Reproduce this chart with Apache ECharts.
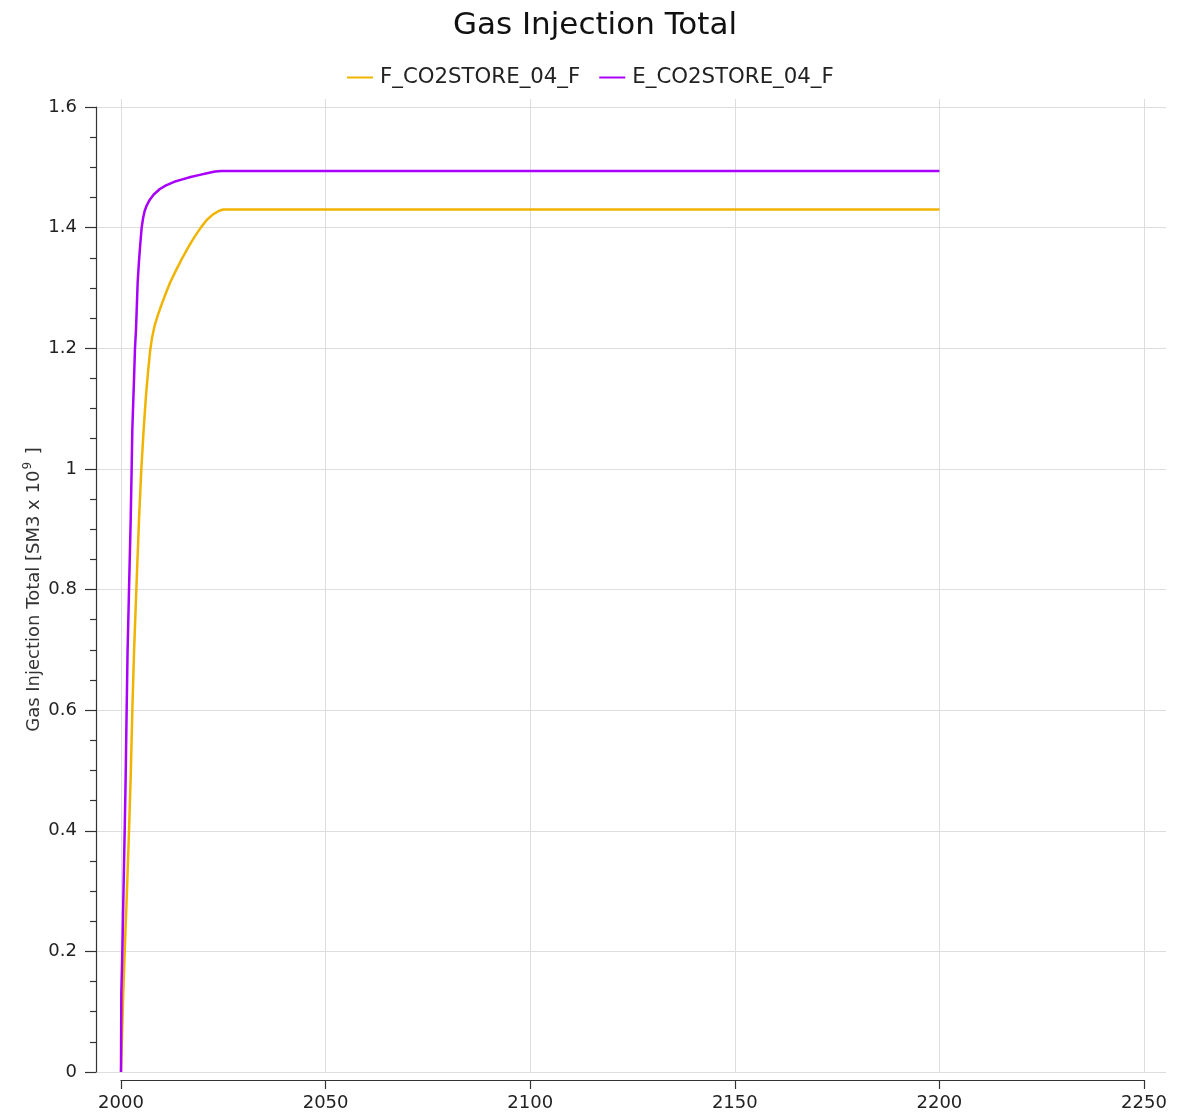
<!DOCTYPE html>
<html>
<head>
<meta charset="utf-8">
<title>Gas Injection Total</title>
<script src="https://cdn.jsdelivr.net/npm/echarts@6/dist/echarts.min.js"></script>
<style>
  html, body { margin: 0; padding: 0; background: #ffffff; }
  #chart { width: 1190px; height: 1117px; }
</style>
</head>
<body>
<div id="chart"></div>
<script>
// Cumulative gas injection per well, SM3 x 10^9, against time in decimal years
const fName = 'F_CO2STORE_04_F';
const fYears  = [2000, 2000.5, 2000.9, 2001.38, 2001.96, 2002.37, 2002.77, 2003.18, 2003.75, 2004.4, 2004.97, 2005.54, 2006.1, 2006.6, 2007.1, 2007.6, 2008.2, 2009.0, 2010.0, 2011.0, 2012.0, 2013.5, 2015.0, 2016.5, 2018.0, 2019.5, 2021.0, 2022.5, 2024.0, 2025.0, 2200];
const fValues = [0, 0.1195, 0.2, 0.2855, 0.4, 0.49, 0.6, 0.695, 0.8, 0.916, 1.0, 1.0656, 1.121, 1.16, 1.195, 1.218, 1.237, 1.255, 1.274, 1.292, 1.309, 1.330, 1.350, 1.368, 1.385, 1.400, 1.413, 1.422, 1.428, 1.430, 1.430];

const eName = 'E_CO2STORE_04_F';
const eYears  = [2000, 2000.08, 2000.33, 2000.57, 2000.9, 2001.14, 2001.38, 2001.6, 2001.96, 2002.37, 2002.6, 2002.77, 2003.18, 2003.42, 2003.67, 2004.07, 2004.4, 2004.7, 2005.05, 2005.4, 2005.8, 2006.3, 2007.0, 2008.0, 2009.5, 2011.0, 2013.0, 2015.0, 2017.0, 2019.0, 2021.0, 2023.0, 2024.5, 2200];
const eValues = [0, 0.13, 0.2, 0.2855, 0.4, 0.49, 0.6, 0.695, 0.8, 0.916, 1.0, 1.0656, 1.1486, 1.2, 1.2315, 1.309, 1.345, 1.372, 1.4, 1.416, 1.428, 1.437, 1.446, 1.455, 1.464, 1.470, 1.476, 1.480, 1.484, 1.487, 1.490, 1.493, 1.494, 1.494];

// Axis ranges and tick spacing
const xMin = 2000, xMax = 2250, xStep = 50;
const yMin = 0, yMax = 1.6, yStep = 0.2;

const fColor = '#f0b400';
const eColor = '#a800f8';
const font = 'DejaVu Sans';

const pairs = (xs, ys) => xs.map((x, i) => [x, ys[i]]);

// Plot box geometry: the value-axis box starts a little lower than the frame
const frameTop = 99, axisTop = 107, plotBottom = 45;
const plotHeight = 1117 - plotBottom - axisTop;
const frameYMax = yMax * (1117 - plotBottom - frameTop) / plotHeight;

const chart = echarts.init(document.getElementById('chart'), null, { renderer: 'canvas' });

chart.setOption({
  backgroundColor: '#ffffff',
  animation: false,
  title: {
    text: 'Gas Injection Total',
    left: 'center',
    top: 10,
    padding: 0,
    textStyle: { fontFamily: font, fontSize: 31, fontWeight: 'normal', color: '#111111' }
  },
  legend: {
    top: 62,
    left: 342,
    icon: 'rect',
    itemWidth: 26,
    itemHeight: 2,
    itemGap: 19,
    textStyle: { fontFamily: font, fontSize: 21.3, color: '#222222', padding: [0, 0, 0, 2] },
    data: [fName, eName]
  },
  grid: [
    // series + time axis
    { left: 121, right: 46, top: frameTop, bottom: plotBottom },
    // value axis with full-width horizontal grid lines
    { left: 96, right: 24, top: axisTop, bottom: plotBottom }
  ],
  xAxis: [
    {
      type: 'value', gridIndex: 0,
      min: xMin, max: xMax, interval: xStep,
      offset: 8,
      axisLine: { show: true, onZero: false, lineStyle: { color: '#333333', width: 1.2 } },
      axisTick: { show: true, length: 9, lineStyle: { color: '#333333', width: 1.2 } },
      axisLabel: { margin: 14, fontFamily: font, fontSize: 18, color: '#222222', formatter: (v) => String(v) },
      splitLine: { show: true, lineStyle: { color: '#dddddd', width: 1 } }
    },
    { type: 'value', gridIndex: 1, min: 0, max: 1, show: false }
  ],
  yAxis: [
    { type: 'value', gridIndex: 0, min: yMin, max: frameYMax, show: false, splitLine: { show: false } },
    {
      type: 'value', gridIndex: 1,
      min: yMin, max: yMax, interval: yStep,
      name: '{b|Gas Injection Total [SM3 x 10}{s|9}{b| ]}',
      nameLocation: 'middle',
      nameGap: 50,
      nameMoveOverlap: false,
      nameTextStyle: {
        rich: {
          b: { fontFamily: font, fontSize: 18, color: '#333333', lineHeight: 24 },
          s: { fontFamily: font, fontSize: 12, color: '#333333', lineHeight: 24, verticalAlign: 'top', padding: [0, 2, 7, 1] }
        }
      },
      axisLine: { show: true, lineStyle: { color: '#333333', width: 1.2 } },
      axisTick: { show: true, length: 11, lineStyle: { color: '#333333', width: 1.2 } },
      minorTick: { show: true, splitNumber: 4, length: 6, lineStyle: { color: '#333333', width: 1.2 } },
      axisLabel: { margin: 19, fontFamily: font, fontSize: 18, color: '#222222' },
      splitLine: { show: true, lineStyle: { color: '#dddddd', width: 1 } }
    }
  ],
  series: [
    {
      name: fName, type: 'line', xAxisIndex: 0, yAxisIndex: 0,
      data: pairs(fYears, fValues),
      symbol: 'none', smooth: false,
      lineStyle: { color: fColor, width: 2.5 },
      itemStyle: { color: fColor }
    },
    {
      name: eName, type: 'line', xAxisIndex: 0, yAxisIndex: 0,
      data: pairs(eYears, eValues),
      symbol: 'none', smooth: false,
      lineStyle: { color: eColor, width: 2.5 },
      itemStyle: { color: eColor }
    }
  ]
});
</script>
</body>
</html>
